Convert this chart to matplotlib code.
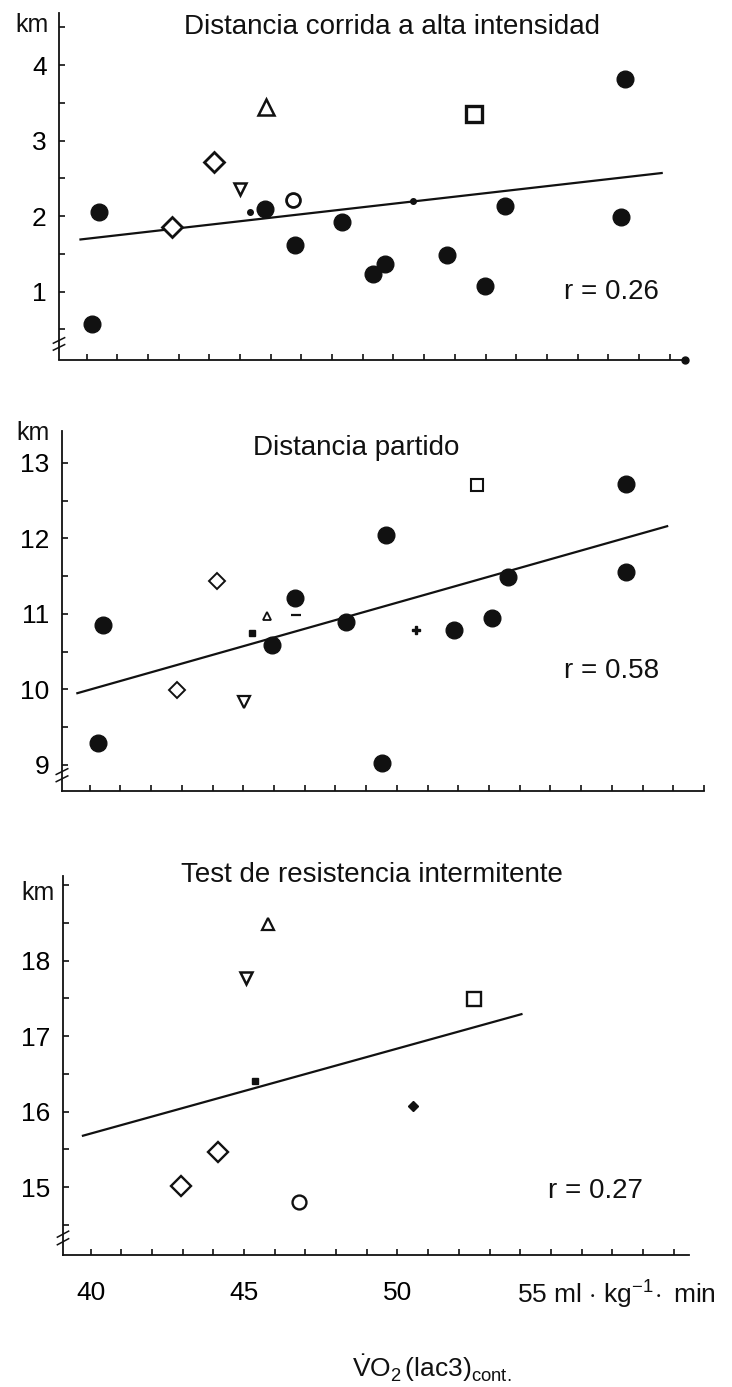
import matplotlib
matplotlib.use("Agg")
import matplotlib.pyplot as plt
from matplotlib.ticker import MultipleLocator, FixedLocator, NullFormatter

plt.rcParams['font.family'] = ['Liberation Sans', 'DejaVu Sans']
plt.rcParams['mathtext.fontset'] = 'custom'
plt.rcParams['mathtext.rm'] = 'Liberation Sans'
plt.rcParams['mathtext.it'] = 'Liberation Sans:italic'
plt.rcParams['mathtext.bf'] = 'Liberation Sans:bold'

# --- panel 1: distancia corrida a alta intensidad (km) ---
hi_dot_x = [40.18, 40.41, 45.82, 46.79, 48.33, 49.32, 49.73, 51.74, 52.98, 53.64, 57.55, 57.41]
hi_dot_y = [0.57, 2.06, 2.10, 1.62, 1.92, 1.23, 1.36, 1.48, 1.08, 2.13, 3.82, 1.99]
hi_diam_x = [42.79, 44.15]
hi_diam_y = [1.86, 2.72]
hi_up = [45.83, 3.44]
hi_down = [45.00, 2.36]
hi_circle = [46.73, 2.21]
hi_square = [52.64, 3.35]
hi_small_x = [45.33, 50.64]
hi_small_y = [2.05, 2.20]
hi_fit_x = [39.8, 58.74]
hi_fit_y = [1.69, 2.57]

# --- panel 2: distancia partido (km) ---
mp_dot_x = [40.26, 40.45, 45.94, 46.70, 48.36, 49.65, 49.52, 51.85, 53.11, 53.61, 57.45, 57.45]
mp_dot_y = [9.29, 10.85, 10.59, 11.21, 10.89, 12.05, 9.02, 10.79, 10.94, 11.49, 12.72, 11.56]
mp_diam_x = [42.86, 44.15]
mp_diam_y = [9.99, 11.44]
mp_up = [45.76, 10.97]
mp_down = [45.03, 9.83]
mp_dash = [46.73, 10.98]
mp_square = [52.60, 12.70]
mp_smallsq = [45.30, 10.75]
mp_plus = [50.64, 10.78]
mp_fit_x = [39.6, 58.8]
mp_fit_y = [9.95, 12.16]

# --- panel 3: test de resistencia intermitente (km) ---
ir_diam_x = [42.96, 44.16]
ir_diam_y = [15.02, 15.47]
ir_up = [45.79, 18.48]
ir_down = [45.05, 17.77]
ir_circle = [46.79, 14.80]
ir_square = [52.49, 17.49]
ir_smallsq = [45.35, 16.40]
ir_plus = [50.52, 16.07]
ir_fit_x = [39.75, 54.04]
ir_fit_y = [15.68, 17.29]

titles = ["Distancia corrida a alta intensidad", "Distancia partido",
          "Test de resistencia intermitente"]
r_labels = ["r = 0.26", "r = 0.58", "r = 0.27"]

W, H = 732, 1387
fig = plt.figure(figsize=(W / 100, H / 100), dpi=100)
K = '#111111'


def box(left, right, top, bottom):
    return fig.add_axes([left / W, 1 - bottom / H, (right - left) / W, (bottom - top) / H])


def style(ax, xmax, ylo, yhi, yticks, xlabels=False):
    ax.set_xlim(39.1, xmax)
    ax.set_ylim(ylo, yhi)
    for s in ['top', 'right']:
        ax.spines[s].set_visible(False)
    for s in ['left', 'bottom']:
        ax.spines[s].set_linewidth(1.3)
        ax.spines[s].set_color(K)
    ax.yaxis.set_major_locator(FixedLocator(yticks))
    ax.yaxis.set_minor_locator(MultipleLocator(0.5))
    ax.xaxis.set_major_locator(FixedLocator([40, 45, 50, 55]))
    ax.xaxis.set_minor_locator(MultipleLocator(1))
    ax.tick_params(which='both', direction='in', length=4, width=1.2, color=K)
    ax.tick_params(axis='y', labelsize=19, pad=9)
    ax.tick_params(axis='x', labelsize=19, pad=19)
    if xlabels:
        ax.set_xticklabels(['40', '45', '50', ''])
    else:
        ax.xaxis.set_major_formatter(NullFormatter())
    # little axis break on the y axis
    for f in (0.035, 0.055):
        ax.plot([-0.009, 0.009], [f - 0.008, f + 0.008], color=K, lw=1.1,
                transform=ax.transAxes, clip_on=False)


def dots(ax, x, y, ms=12):
    ax.plot(x, y, 'o', ms=ms, color=K, ls='none')


def hollow(ax, x, y, m, ms, mew=1.6):
    ax.plot(x, y, m, ms=ms, mfc='white', mec=K, mew=mew, ls='none')


# top panel
ax1 = box(59, 685, 13, 359.5)
style(ax1, 59.5, 0.1, 4.69, [1, 2, 3, 4])
ax1.plot(hi_fit_x, hi_fit_y, color=K, lw=1.6)
dots(ax1, hi_dot_x, hi_dot_y)
hollow(ax1, hi_diam_x, hi_diam_y, 'D', 10, 2.0)
hollow(ax1, [hi_up[0]], [hi_up[1]], '^', 11, 1.8)
hollow(ax1, [hi_down[0]], [hi_down[1]], 'v', 9, 1.8)
hollow(ax1, [hi_circle[0]], [hi_circle[1]], 'o', 10, 2.0)
hollow(ax1, [hi_square[0]], [hi_square[1]], 's', 12, 2.4)
dots(ax1, hi_small_x, hi_small_y, ms=4)
ax1.plot([1], [0], 'o', ms=5, color=K, transform=ax1.transAxes, clip_on=False)
ax1.text(49.95, 4.50, titles[0], fontsize=20, ha='center', va='center', color=K)
ax1.text(38.22, 4.53, 'km', fontsize=18, ha='center', va='center', color=K, clip_on=False)
ax1.text(57.1, 1.0, r_labels[0], fontsize=20, ha='center', va='center', color=K)

# middle panel
ax2 = box(62, 704, 431, 791.4)
style(ax2, 60.0, 8.65, 13.42, [9, 10, 11, 12, 13])
ax2.plot(mp_fit_x, mp_fit_y, color=K, lw=1.6)
dots(ax2, mp_dot_x, mp_dot_y)
hollow(ax2, mp_diam_x, mp_diam_y, 'D', 8, 1.4)
hollow(ax2, [mp_up[0]], [mp_up[1]], '^', 6, 1.3)
hollow(ax2, [mp_down[0]], [mp_down[1]], 'v', 8, 1.6)
hollow(ax2, [mp_square[0]], [mp_square[1]], 's', 9, 1.5)
ax2.plot([mp_dash[0]], [mp_dash[1]], '_', ms=7, mew=1.6, color=K)
ax2.plot([mp_smallsq[0]], [mp_smallsq[1]], 's', ms=5, color=K)
ax2.plot([mp_plus[0]], [mp_plus[1]], 'P', ms=6, color=K)
ax2.text(48.67, 13.2, titles[1], fontsize=20, ha='center', va='center', color=K)
ax2.text(38.16, 13.40, 'km', fontsize=18, ha='center', va='center', color=K, clip_on=False)
ax2.text(57.0, 10.25, r_labels[1], fontsize=20, ha='center', va='center', color=K)

# bottom panel
ax3 = box(63, 689, 876, 1255)
style(ax3, 59.5, 14.1, 19.12, [15, 16, 17, 18], xlabels=True)
ax3.plot(ir_fit_x, ir_fit_y, color=K, lw=1.6)
hollow(ax3, ir_diam_x, ir_diam_y, 'D', 10, 1.7)
hollow(ax3, [ir_up[0]], [ir_up[1]], '^', 9, 1.6)
hollow(ax3, [ir_down[0]], [ir_down[1]], 'v', 9, 1.8)
hollow(ax3, [ir_circle[0]], [ir_circle[1]], 'o', 10, 1.7)
hollow(ax3, [ir_square[0]], [ir_square[1]], 's', 10, 1.7)
ax3.plot([ir_smallsq[0]], [ir_smallsq[1]], 's', ms=5, color=K)
ax3.plot([ir_plus[0]], [ir_plus[1]], 'D', ms=5, color=K)
ax3.text(49.16, 19.13, titles[2], fontsize=20, ha='center', va='center', color=K,
         clip_on=False)
ax3.text(38.29, 18.9, 'km', fontsize=18, ha='center', va='center', color=K, clip_on=False)
ax3.text(56.45, 14.95, r_labels[2], fontsize=20, ha='center', va='center', color=K)
ax3.text(53.89, 13.45, r'55 ml $\cdot$ kg$^{-1}\!\cdot$ min', fontsize=19,
         ha='left', va='baseline', color=K, clip_on=False)
ax3.text(51.12, 12.48, r'$\dot{\mathrm{V}}\mathrm{O}_2\,(\mathrm{lac3})_{\mathrm{cont.}}$',
         fontsize=19, ha='center', va='baseline', color=K, clip_on=False)

fig.savefig('out.png', dpi=100, facecolor='white')
